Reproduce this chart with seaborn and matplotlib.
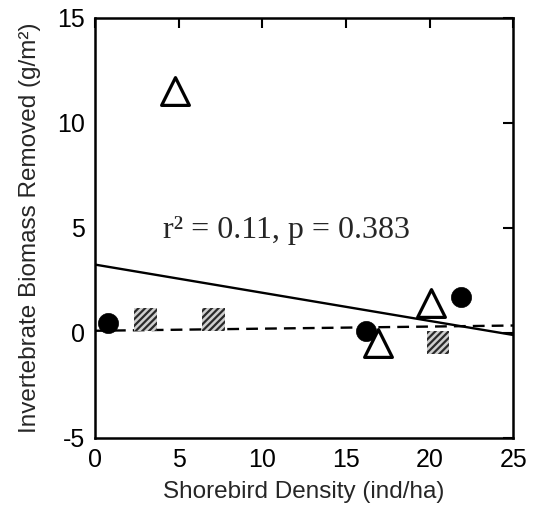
import pandas as pd
import matplotlib
matplotlib.use("Agg")
from matplotlib import pyplot as plt
import seaborn as sns

# Values
circle_x = [0.8, 16.2, 21.9]
circle_y = [0.45, 0.08, 1.72]
square_x = [3.0, 7.1, 20.5]
square_y = [0.62, 0.62, -0.45]
triangle_x = [4.8, 16.9, 20.1]
triangle_y = [11.5, -0.5, 1.42]

# Fitted lines (endpoints at x = 0 and x = 25)
line_x = [0, 25]
solid_y = [3.25, -0.1]
dashed_y = [0.1, 0.35]

stat_text = "r\u00b2 = 0.11, p = 0.383"
xticks = [0, 5, 10, 15, 20, 25]
yticks = [-5, 0, 5, 10, 15]

sns.set_style("white")
plt.rcParams["font.family"] = ["Liberation Sans", "DejaVu Sans"]
plt.rcParams["axes.unicode_minus"] = False
plt.rcParams["hatch.linewidth"] = 1.6

fig = plt.figure(figsize=(5.34, 5.08), dpi=100)
ax = fig.add_axes([0.178, 0.138, 0.783, 0.827])

# Points
sns.scatterplot(x=circle_x, y=circle_y, ax=ax, marker="o", s=210,
                color="black", edgecolor="black", linewidth=0.5, zorder=4)
sns.scatterplot(x=square_x, y=square_y, ax=ax, marker="s", s=270,
                facecolor="#cfcfcf", edgecolor="#2a2a2a", hatch="/////",
                linewidth=0.0, zorder=4)
sns.scatterplot(x=triangle_x, y=triangle_y, ax=ax, marker="^", s=400,
                facecolor="white", edgecolor="black", linewidth=2.3, zorder=5)

# Regression lines
sns.lineplot(x=line_x, y=solid_y, ax=ax, color="black", lw=1.7, zorder=3)
sns.lineplot(x=line_x, y=dashed_y, ax=ax, color="black", lw=1.7,
             dashes=False, zorder=3).lines[-1].set_dashes((5, 3))

ax.text(4.05, 4.85, stat_text, family="Liberation Serif", fontsize=23,
        ha="left", va="center")

# Axes formatting
ax.set_xlim(0, 25)
ax.set_ylim(-5, 15)
ax.set_xticks(xticks)
ax.set_yticks(yticks)
ax.tick_params(direction="in", length=7, width=1.5, top=True, right=True,
               labelsize=18, pad=7, colors="black")
for spine in ax.spines.values():
    spine.set_visible(True)
    spine.set_linewidth(1.8)
    spine.set_color("black")

ax.set_xlabel("Shorebird Density (ind/ha)", fontsize=17.5, labelpad=7)
ax.set_ylabel("Invertebrate Biomass Removed (g/m\u00b2)", fontsize=17.5, labelpad=12)

fig.savefig("out.png", dpi=100)
